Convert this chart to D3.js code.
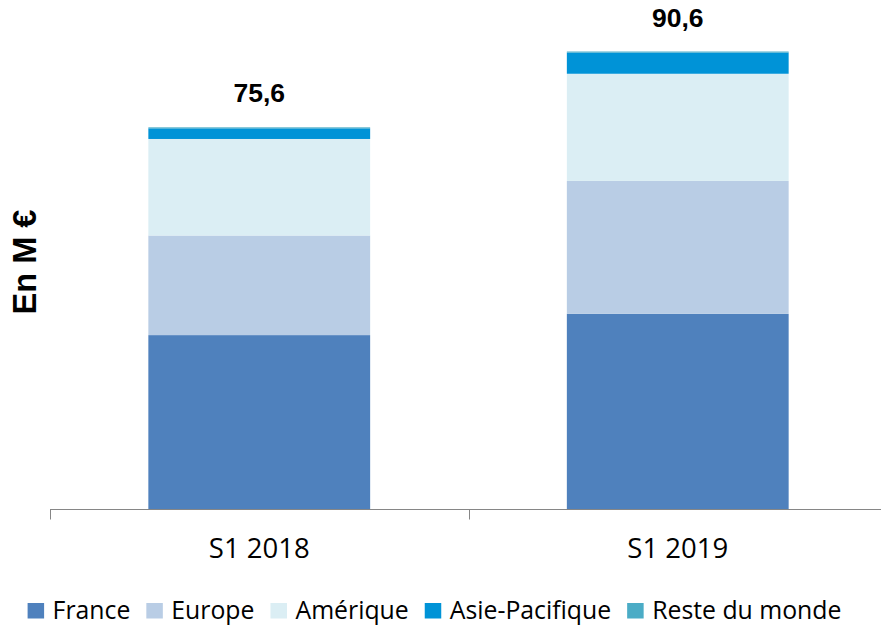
<!DOCTYPE html>
<html>
<head>
<meta charset="utf-8">
<script src="https://cdn.jsdelivr.net/npm/d3@7"></script>
<style>
  html, body { margin: 0; padding: 0; background: #fff; }
  svg { display: block; }
</style>
</head>
<body>
<svg id="chart" width="881" height="626"></svg>
<script>
const categories = ['S1 2018', 'S1 2019']
const regions = ['France', 'Europe', 'Amérique', 'Asie-Pacifique', 'Reste du monde']
const france = [34.5, 38.7]
const europe = [19.7, 26.3]
const amerique = [19.1, 21.2]
const asie = [2.1, 4.2]
const reste = [0.2, 0.2]
const totals = ['75,6', '90,6']
const colors = ['#4F81BD', '#B9CDE5', '#DBEEF4', '#0093D7', '#4BACC6']

const series = [france, europe, amerique, asie, reste]
const rows = categories.map((c, i) => {
  const row = {cat: c}
  regions.forEach((r, j) => { row[r] = series[j][i] })
  return row
})

const svg = d3.select('#chart')
const width = 881
const base = 509.5

const x = d3.scaleBand()
  .domain(categories)
  .range([50, 887])
  .paddingInner(0.47)
  .paddingOuter(0.235)

const y = d3.scaleLinear().domain([0, 100]).range([base, 4])

const stacked = d3.stack().keys(regions)(rows)

svg.append('g')
  .selectAll('g')
  .data(stacked)
  .join('g')
  .attr('fill', (d, i) => colors[i])
  .selectAll('rect')
  .data(d => d)
  .join('rect')
  .attr('x', d => x(d.data.cat))
  .attr('width', x.bandwidth())
  .attr('y', d => y(d[1]))
  .attr('height', d => y(d[0]) - y(d[1]))

// axis line and ticks between categories
const axis = svg.append('g').attr('stroke', '#868686').attr('stroke-width', 1)
axis.append('line')
  .attr('x1', x.range()[0]).attr('x2', width)
  .attr('y1', base).attr('y2', base)
d3.range(categories.length + 1).forEach(i => {
  const tx = Math.round(x.range()[0] + i * x.step()) + 0.5
  axis.append('line')
    .attr('x1', tx).attr('x2', tx)
    .attr('y1', base).attr('y2', base + 10)
})

svg.append('g')
  .selectAll('text')
  .data(categories)
  .join('text')
  .attr('x', d => x(d) + x.bandwidth() / 2)
  .attr('y', 557.5)
  .attr('text-anchor', 'middle')
  .attr('font-family', 'Open Sans, sans-serif')
  .attr('font-size', 27.5)
  .attr('fill', '#000')
  .text(d => d)

// totals above the stacks
svg.append('g')
  .selectAll('text')
  .data(rows)
  .join('text')
  .attr('x', d => x(d.cat) + x.bandwidth() / 2)
  .attr('y', (d, i) => y(d3.sum(series, s => s[i])) - 25)
  .attr('text-anchor', 'middle')
  .attr('font-family', 'Liberation Sans, Arial, sans-serif')
  .attr('font-weight', 'bold')
  .attr('font-size', 26.5)
  .attr('fill', '#000')
  .text((d, i) => totals[i])

svg.append('text')
  .attr('transform', 'translate(36,262) rotate(-90)')
  .attr('text-anchor', 'middle')
  .attr('font-family', 'Liberation Sans, Arial, sans-serif')
  .attr('font-weight', 'bold')
  .attr('font-size', 32.5)
  .attr('fill', '#000')
  .text('En M €')

// legend
const legend = svg.append('g')
const gap = 16
let lx = 0
regions.forEach((r, i) => {
  const item = legend.append('g').attr('transform', `translate(${lx},0)`)
  item.append('rect')
    .attr('x', 0).attr('y', 603)
    .attr('width', 16.5).attr('height', 15.5)
    .attr('fill', colors[i])
  const t = item.append('text')
    .attr('x', 25).attr('y', 618.5)
    .attr('font-family', 'Open Sans, sans-serif')
    .attr('font-size', 24.8)
    .attr('fill', '#000')
    .text(r)
  lx += 25 + t.node().getComputedTextLength() + gap
})
const legendWidth = lx - gap
legend.attr('transform', `translate(${434.5 - legendWidth / 2},0)`)
</script>
</body>
</html>
